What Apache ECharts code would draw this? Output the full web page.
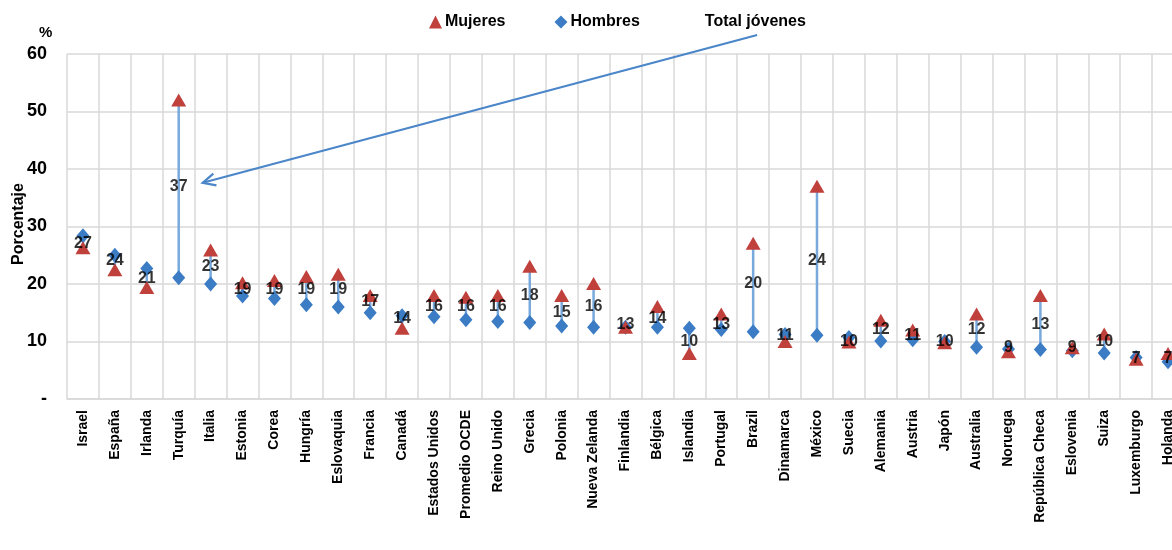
<!DOCTYPE html>
<html>
<head>
<meta charset="utf-8">
<script src="https://cdn.jsdelivr.net/npm/echarts@6/dist/echarts.min.js"></script>
<style>
  html, body { margin: 0; padding: 0; background: #ffffff; }
  #chart { width: 1172px; height: 550px; }
</style>
</head>
<body>
<div id="chart"></div>
<script>
// Tasa de jóvenes que no estudian ni trabajan, por sexo (%)
const paises = [
  'Israel', 'España', 'Irlanda', 'Turquía', 'Italia', 'Estonia', 'Corea', 'Hungría',
  'Eslovaquia', 'Francia', 'Canadá', 'Estados Unidos', 'Promedio OCDE', 'Reino Unido',
  'Grecia', 'Polonia', 'Nueva Zelanda', 'Finlandia', 'Bélgica', 'Islandia', 'Portugal',
  'Brazil', 'Dinamarca', 'México', 'Suecia', 'Alemania', 'Austria', 'Japón', 'Australia',
  'Noruega', 'República Checa', 'Eslovenia', 'Suiza', 'Luxemburgo', 'Holanda'
];
const mujeres = [
  26.3, 22.5, 19.4, 52.0, 25.9, 20.2, 20.6, 21.3, 21.7, 18.0, 12.3, 18.0, 17.7, 18.0,
  23.1, 18.0, 20.1, 12.5, 16.1, 7.9, 14.8, 27.1, 10.0, 37.0, 9.9, 13.7, 12.0, 9.8, 14.8,
  8.2, 18.0, 8.9, 11.3, 6.9, 7.9
];
const hombres = [
  28.4, 25.0, 22.7, 21.1, 20.0, 17.9, 17.5, 16.4, 16.0, 15.0, 14.5, 14.3, 13.8, 13.5,
  13.3, 12.7, 12.5, 12.5, 12.5, 12.3, 12.1, 11.7, 11.2, 11.1, 10.7, 10.1, 10.3, 10.0, 9.0,
  8.7, 8.6, 8.4, 8.0, 7.2, 6.5
];
const totalJovenes = [
  27, 24, 21, 37, 23, 19, 19, 19, 19, 17, 14, 16, 16, 16, 18, 15, 16, 13, 14, 10, 13,
  20, 11, 24, 10, 12, 11, 10, 12, 9, 13, 9, 10, 7, 7
];
const yMin = 0, yMax = 60, yStep = 10;

const FONT = '"Liberation Sans", Arial, sans-serif';
const ROJO = '#c0403c';
const AZUL = '#3b7cc4';
const AZUL_CLARO = '#78a9dd';
const REJILLA = '#d9d9d9';

const chart = echarts.init(document.getElementById('chart'), null, { renderer: 'canvas' });

chart.setOption({
  animation: false,
  backgroundColor: '#ffffff',
  textStyle: { fontFamily: FONT },
  grid: {
    left: 67, right: -12, top: 54, bottom: 151,
    containLabel: false,
    outerBoundsMode: 'none'
  },
  legend: {
    top: 9,
    left: 424,
    itemGap: 49,
    itemWidth: 13,
    itemHeight: 13,
    textStyle: { fontFamily: FONT, fontSize: 16, fontWeight: 'bold', color: '#000', padding: [0, 0, 0, -2] },
    data: [
      { name: 'Mujeres', icon: 'triangle', itemStyle: { color: ROJO } },
      { name: 'Hombres', icon: 'diamond', itemStyle: { color: AZUL } },
      { name: 'Total jóvenes', icon: 'none' }
    ]
  },
  xAxis: {
    type: 'category',
    data: paises,
    boundaryGap: true,
    axisLine: { show: true, lineStyle: { color: REJILLA, width: 1.5 } },
    axisTick: { show: false },
    splitLine: { show: true, interval: 0, lineStyle: { color: REJILLA, width: 1.5 } },
    axisLabel: {
      interval: 0,
      rotate: 90,
      margin: 11,
      fontFamily: FONT,
      fontSize: 14,
      fontWeight: 'bold',
      color: '#000'
    }
  },
  yAxis: {
    type: 'value',
    min: yMin,
    max: yMax,
    interval: yStep,
    axisLine: { show: false },
    axisTick: { show: false },
    splitLine: { show: true, lineStyle: { color: REJILLA, width: 1.5 } },
    axisLabel: {
      margin: 20,
      fontFamily: FONT,
      fontSize: 18,
      fontWeight: 'bold',
      color: '#000',
      formatter: v => (v === 0 ? '-' : String(v))
    }
  },
  series: [
    {
      // Línea vertical entre el valor de hombres y el de mujeres
      name: 'rango',
      type: 'custom',
      silent: true,
      z: 1,
      renderItem: (params, api) => {
        const i = api.value(0);
        const a = api.coord([i, api.value(1)]);
        const b = api.coord([i, api.value(2)]);
        return {
          type: 'line',
          shape: { x1: a[0], y1: a[1], x2: b[0], y2: b[1] },
          style: { stroke: AZUL_CLARO, lineWidth: 2.5 }
        };
      },
      data: paises.map((p, i) => [i, mujeres[i], hombres[i]])
    },
    {
      name: 'Hombres',
      type: 'scatter',
      symbol: 'diamond',
      symbolSize: [13, 15],
      z: 3,
      itemStyle: { color: AZUL, opacity: 1 },
      data: hombres
    },
    {
      name: 'Mujeres',
      type: 'scatter',
      symbol: 'triangle',
      symbolSize: [15, 13],
      z: 4,
      itemStyle: { color: ROJO, opacity: 1 },
      data: mujeres
    },
    {
      name: 'Total jóvenes',
      type: 'scatter',
      symbolSize: 1,
      z: 6,
      itemStyle: { color: 'rgba(0,0,0,0)' },
      label: {
        show: true,
        position: 'inside',
        fontFamily: FONT,
        fontSize: 16,
        fontWeight: 'bold',
        color: '#000',
        formatter: p => String(p.value)
      },
      data: totalJovenes
    }
  ]
});

// Rótulos del eje vertical y flecha que señala el total de Turquía
const p60 = chart.convertToPixel({ xAxisIndex: 0, yAxisIndex: 0 }, [0, yMax]);
const tip = chart.convertToPixel({ xAxisIndex: 0, yAxisIndex: 0 }, [paises.indexOf('Turquía'), 37.6]);
const tail = chart.convertToPixel({ xAxisIndex: 0, yAxisIndex: 0 }, [paises.indexOf('Brazil'), 63.3]);
const tipX = tip[0] + 24, tipY = tip[1];
const tailX = tail[0] + 4, tailY = tail[1];
const ang = Math.atan2(tailY - tipY, tailX - tipX);
const headLen = 14, spread = 0.45;
const h1 = [tipX + headLen * Math.cos(ang + spread), tipY + headLen * Math.sin(ang + spread)];
const h2 = [tipX + headLen * Math.cos(ang - spread), tipY + headLen * Math.sin(ang - spread)];

chart.setOption({
  graphic: [
    {
      type: 'text',
      x: 39,
      y: p60[1] - 29,
      style: { text: '%', font: 'bold 15px ' + FONT, fill: '#000' }
    },
    {
      type: 'text',
      x: 19,
      y: 224,
      rotation: Math.PI / 2,
      style: {
        text: 'Porcentaje',
        font: 'bold 16px ' + FONT,
        fill: '#000',
        align: 'center',
        verticalAlign: 'middle'
      }
    },
    {
      type: 'line',
      z: 10,
      shape: { x1: tailX, y1: tailY, x2: tipX, y2: tipY },
      style: { stroke: '#4a86c8', lineWidth: 2.2 }
    },
    {
      type: 'polyline',
      z: 10,
      shape: { points: [h1, [tipX, tipY], h2] },
      style: { stroke: '#4a86c8', lineWidth: 2.2, fill: null }
    }
  ]
});
</script>
</body>
</html>
